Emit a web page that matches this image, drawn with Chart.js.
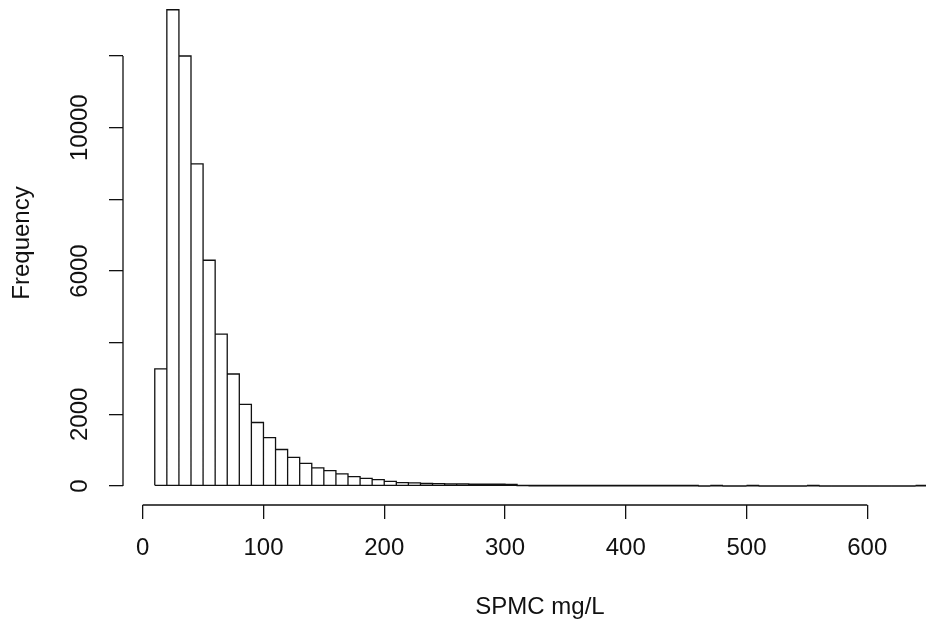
<!DOCTYPE html>
<html>
<head>
<meta charset="utf-8">
<script src="https://cdn.jsdelivr.net/npm/chart.js@4.4.1/dist/chart.umd.min.js"></script>
<style>
html,body{margin:0;padding:0;background:#fff;overflow:hidden;width:926px;height:623px;}
#wrap{position:absolute;left:0;top:-19px;width:957px;height:642px;}
canvas{display:block;}
</style>
</head>
<body>
<div id="wrap"><canvas id="c" width="957" height="642"></canvas></div>
<script>
// ---- data ----
const binWidth = 10;
const binStart = [10,20,30,40,50,60,70,80,90,100,
                  110,120,130,140,150,160,170,180,190,200,
                  210,220,230,240,250,260,270,280,290,300,
                  310,320,330,340,350,360,370,380,390,400,
                  410,420,430,440,450,460,470,480,490,500,
                  510,520,530,540,550,560,570,580,590,600,
                  610,620,630,640];
const counts = [3270,13290,12000,8990,6300,4240,3125,2280,1772,1348,
                1019,801,633,508,427,340,260,215,176,131,
                95,85,70,66,62,58,55,52,50,48,
                9,7,6,5,4,3,3,2,2,2,
                1,1,1,1,1,0,1,0,0,1,
                0,0,0,0,1,0,0,0,0,0,
                0,0,0,1];
const xTicks = [0,100,200,300,400,500,600];
const xTickLabels = ['0','100','200','300','400','500','600'];
const yTicks = [0,2000,4000,6000,8000,10000,12000];
const yTickLabels = ['0','2000','','6000','','10000',''];
const xTitle = 'SPMC mg/L';
const yTitle = 'Frequency';

const LINE = '#111';
const LW = 1.3;

const rAxes = {
  id: 'rAxes',
  afterDatasetsDraw(chart) {
    const {ctx, chartArea, scales} = chart;
    const xs = scales.x, ys = scales.y;
    ctx.save();
    ctx.strokeStyle = LINE;
    ctx.lineWidth = LW;
    ctx.lineJoin = 'miter';
    const meta = chart.getDatasetMeta(0);
    ctx.beginPath();
    meta.data.forEach(el => {
      const p = el.getProps(['x','y','base','width'], true);
      const l = p.x - p.width / 2, r = p.x + p.width / 2;
      ctx.moveTo(l, p.base);
      ctx.lineTo(l, p.y);
      ctx.lineTo(r, p.y);
      ctx.lineTo(r, p.base);
      ctx.lineTo(l, p.base);
    });
    ctx.stroke();
    ctx.beginPath();
    ctx.moveTo(xs.getPixelForValue(xTicks[0]), chartArea.bottom);
    ctx.lineTo(xs.getPixelForValue(xTicks[xTicks.length - 1]), chartArea.bottom);
    ctx.moveTo(chartArea.left, ys.getPixelForValue(yTicks[0]));
    ctx.lineTo(chartArea.left, ys.getPixelForValue(yTicks[yTicks.length - 1]));
    ctx.stroke();
    ctx.restore();
  }
};

Chart.defaults.font.family = '"Liberation Sans", Arial, sans-serif';
Chart.defaults.font.size = 24;
Chart.defaults.color = '#111';

const gridOpts = {display: true, offset: false, drawOnChartArea: false, drawTicks: true, tickLength: 14, color: LINE, lineWidth: LW};

new Chart(document.getElementById('c'), {
  type: 'bar',
  data: {
    datasets: [{
      data: binStart.map((s, i) => ({x: s + binWidth / 2, y: counts[i]})),
      backgroundColor: 'rgba(255,255,255,0)',
      borderWidth: 0,
      barPercentage: 1,
      categoryPercentage: 1
    }]
  },
  options: {
    responsive: false,
    animation: false,
    devicePixelRatio: 1,
    layout: {padding: 0},
    plugins: {legend: {display: false}, tooltip: {enabled: false}},
    scales: {
      x: {
        type: 'linear', min: -16.31, max: 674.3, offset: false,
        afterBuildTicks: s => { s.ticks = xTicks.map(v => ({value: v})); },
        afterFit: s => { s.height = 118; s.paddingLeft = 0; s.paddingRight = 0; s.paddingTop = 0; s.paddingBottom = 0; },
        grid: gridOpts,
        border: {display: false},
        ticks: {autoSkip: false, maxRotation: 0, minRotation: 0, padding: 15, callback: (v, i) => xTickLabels[i]},
        title: {display: true, text: xTitle, padding: {top: 0, bottom: 1}}
      },
      y: {
        type: 'linear', min: -530.2, max: 14093,
        afterBuildTicks: s => { s.ticks = yTicks.map(v => ({value: v})); },
        afterFit: s => { s.width = 123; s.paddingLeft = 0; s.paddingRight = 0; s.paddingTop = 0; s.paddingBottom = 0; },
        grid: gridOpts,
        border: {display: false},
        ticks: {autoSkip: false, minRotation: 90, maxRotation: 90, crossAlign: 'center', padding: -5, callback: (v, i) => yTickLabels[i]},
        title: {display: true, text: yTitle, padding: {top: 8, bottom: 0}}
      }
    }
  },
  plugins: [rAxes]
});
</script>
</body>
</html>
